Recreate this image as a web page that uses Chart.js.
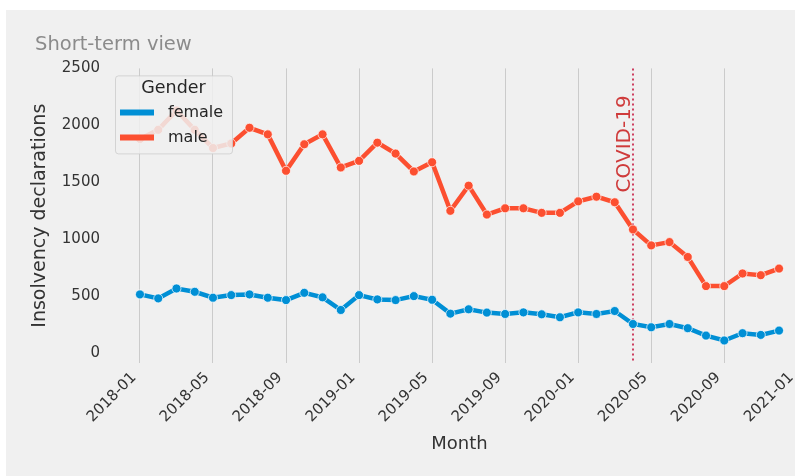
<!DOCTYPE html>
<html>
<head>
<meta charset="utf-8">
<title>Insolvency declarations - short-term view</title>
<script src="https://cdn.jsdelivr.net/npm/chart.js@4.4.1/dist/chart.umd.min.js"></script>
<style>
  html, body { margin: 0; padding: 0; background: #fff; overflow: hidden; }
  #wrap { position: absolute; left: 6px; top: 10px; width: 824px; height: 466px; background: #f0f0f0; }
</style>
</head>
<body>
<div id="wrap"><canvas id="chart" width="824" height="466"></canvas></div>
<script>
// monthly values, 2018-01 .. 2020-12
const months = [
    '2018-01', '2018-02', '2018-03', '2018-04', '2018-05', '2018-06',
    '2018-07', '2018-08', '2018-09', '2018-10', '2018-11', '2018-12',
    '2019-01', '2019-02', '2019-03', '2019-04', '2019-05', '2019-06',
    '2019-07', '2019-08', '2019-09', '2019-10', '2019-11', '2019-12',
    '2020-01', '2020-02', '2020-03', '2020-04', '2020-05', '2020-06',
    '2020-07', '2020-08', '2020-09', '2020-10', '2020-11', '2020-12'
];
const female = [
    513, 478, 565, 536, 484, 507, 513, 484, 463, 527, 487, 376,
    507, 469, 463, 498, 466, 344, 382, 353, 341, 355, 338, 312,
    355, 341, 367, 253, 224, 253, 216, 151, 108, 172, 157, 195
];
const male = [
    1880, 1960, 2130, 1960, 1800, 1840, 1978, 1920, 1600, 1833, 1920, 1629,
    1687, 1847, 1751, 1594, 1675, 1248, 1469, 1215, 1270, 1270, 1230, 1230,
    1331, 1372, 1323, 1084, 944, 973, 842, 586, 586, 697, 682, 740
];

// x ticks every 4 months (position = month index)
const xTickPos = [0, 4, 8, 12, 16, 20, 24, 28, 32, 36];
const xTickLabels = ['2018-01', '2018-05', '2018-09', '2019-01', '2019-05',
                     '2019-09', '2020-01', '2020-05', '2020-09', '2021-01'];
const yTicks = [0, 500, 1000, 1500, 2000, 2500];

const covidMonth = 27; // index of 2020-04
const covidLabel = 'COVID-19';
const legendTitle = 'Gender';

const FONT = "'DejaVu Sans', sans-serif";

// dotted vertical marker with rotated label
const covidLine = {
    id: 'covidLine',
    beforeDatasetsDraw(chart) {
        const { ctx, chartArea, scales: { x } } = chart;
        const px = Math.round(x.getPixelForValue(covidMonth));
        ctx.save();
        ctx.strokeStyle = 'rgba(200, 30, 70, 0.85)';
        ctx.lineWidth = 2;
        ctx.setLineDash([2, 3]);
        ctx.beginPath();
        ctx.moveTo(px, chartArea.top);
        ctx.lineTo(px, chartArea.bottom);
        ctx.stroke();
        ctx.setLineDash([]);
        ctx.translate(px - 3, chartArea.top + 27);
        ctx.rotate(-Math.PI / 2);
        ctx.fillStyle = '#cf3b3b';
        ctx.font = '20px ' + FONT;
        ctx.textAlign = 'right';
        ctx.textBaseline = 'alphabetic';
        ctx.fillText(covidLabel, 0, 0);
        ctx.restore();
    }
};

// matplotlib-like legend box inside the plot
const boxLegend = {
    id: 'boxLegend',
    afterDatasetsDraw(chart) {
        const { ctx, chartArea } = chart;
        const left = chartArea.left + 7, top = chartArea.top + 7, w = 117, h = 78;
        ctx.save();
        ctx.fillStyle = 'rgba(240, 240, 240, 0.85)';
        ctx.strokeStyle = 'rgba(204, 204, 204, 0.8)';
        ctx.lineWidth = 1;
        ctx.beginPath();
        ctx.roundRect(left + 0.5, top + 0.5, w, h, 3);
        ctx.fill();
        ctx.stroke();

        ctx.fillStyle = '#262626';
        ctx.font = '17.5px ' + FONT;
        ctx.textAlign = 'center';
        ctx.textBaseline = 'middle';
        ctx.fillText(legendTitle, left + w / 2, top + 13);

        ctx.font = '16px ' + FONT;
        ctx.textAlign = 'left';
        chart.data.datasets.forEach((ds, i) => {
            const y = top + 37 + i * 25;
            ctx.strokeStyle = ds.borderColor;
            ctx.lineWidth = 6;
            ctx.beginPath();
            ctx.moveTo(left + 5, y);
            ctx.lineTo(left + 39, y);
            ctx.stroke();
            ctx.fillText(ds.label, left + 53, y);
        });
        ctx.restore();
    }
};

const toPoints = arr => arr.map((v, i) => ({ x: i, y: v }));

new Chart(document.getElementById('chart').getContext('2d'), {
    type: 'line',
    data: {
        datasets: [
            {
                label: 'female',
                data: toPoints(female),
                borderColor: '#008fd5',
                backgroundColor: '#008fd5',
                pointBackgroundColor: '#008fd5',
                pointBorderColor: 'rgba(255, 255, 255, 0.7)',
                borderWidth: 4.5,
                pointRadius: 4.5,
                pointBorderWidth: 1,
                tension: 0,
            },
            {
                label: 'male',
                data: toPoints(male),
                borderColor: '#fc4f30',
                backgroundColor: '#fc4f30',
                pointBackgroundColor: '#fc4f30',
                pointBorderColor: 'rgba(255, 255, 255, 0.7)',
                borderWidth: 4.5,
                pointRadius: 4.5,
                pointBorderWidth: 1,
                tension: 0,
            },
        ],
    },
    options: {
        responsive: false,
        animation: false,
        layout: { padding: { left: 29, right: 19, top: 0, bottom: 21 } },
        plugins: {
            legend: { display: false },
            tooltip: { enabled: false },
            title: {
                display: true,
                text: 'Short-term view',
                align: 'start',
                color: '#8b8b8b',
                font: { family: FONT, size: 19.5, weight: 'normal' },
                padding: { top: 23.3, bottom: 11.7 },
            },
        },
        scales: {
            x: {
                type: 'linear',
                min: -1.75,
                max: 36.75,
                afterBuildTicks: axis => { axis.ticks = xTickPos.map(v => ({ value: v })); },
                afterFit: axis => { axis.height = 92; },
                ticks: {
                    autoSkip: false,
                    minRotation: 45,
                    maxRotation: 45,
                    padding: 6,
                    labelOffset: -6,
                    color: '#333',
                    font: { family: FONT, size: 15 },
                    callback: v => xTickLabels[xTickPos.indexOf(v)],
                },
                grid: { color: '#cbcbcb', lineWidth: 1, drawTicks: false },
                border: { display: false },
                title: {
                    display: true,
                    text: 'Month',
                    color: '#333',
                    font: { family: FONT, size: 18 },
                    padding: 0,
                },
            },
            y: {
                min: -90,
                max: 2500,
                afterBuildTicks: axis => { axis.ticks = yTicks.map(v => ({ value: v })); },
                afterFit: axis => { axis.width = 73; },
                ticks: {
                    padding: 8,
                    color: '#333',
                    font: { family: FONT, size: 15 },
                    callback: v => String(v),
                },
                grid: { display: false, drawTicks: false },
                border: { display: false },
                title: {
                    display: true,
                    text: 'Insolvency declarations',
                    color: '#333',
                    font: { family: FONT, size: 19 },
                    padding: { top: -6.4, bottom: 0 },
                },
            },
        },
    },
    plugins: [covidLine, boxLegend],
});
</script>
</body>
</html>
